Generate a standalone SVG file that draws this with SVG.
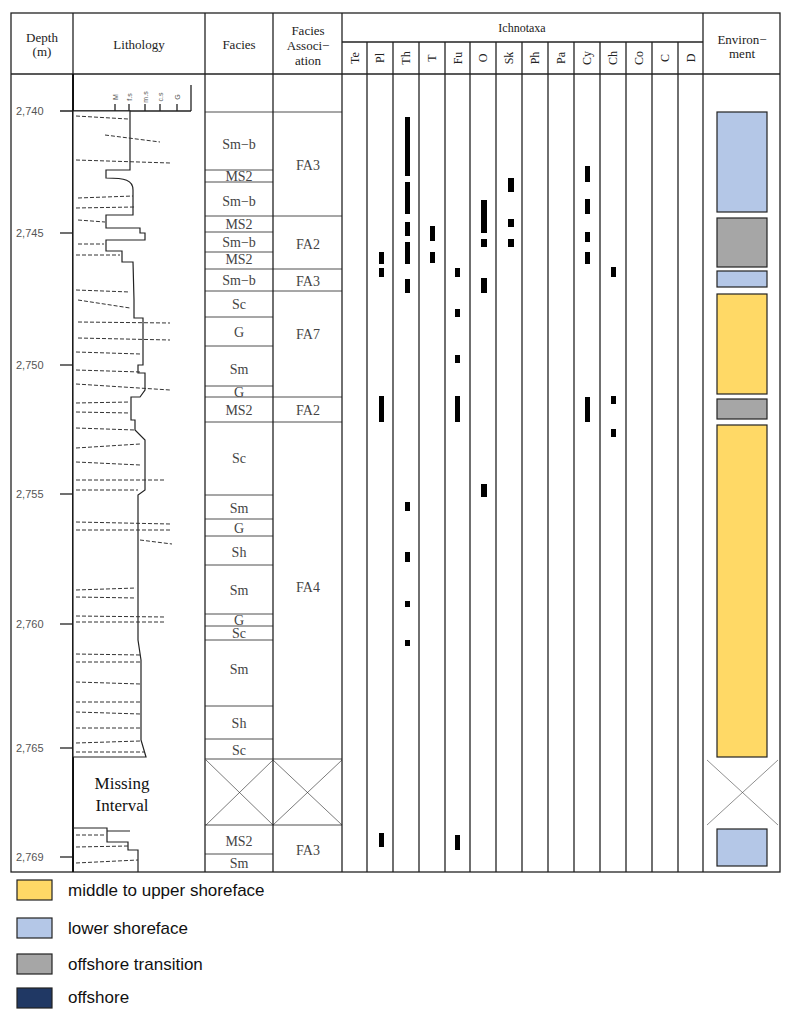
<svg xmlns="http://www.w3.org/2000/svg" width="792" height="1020" viewBox="0 0 792 1020">
<style>
.t{font-family:"Liberation Serif",serif;fill:#222;text-anchor:middle}
.h{font-size:13px}
.f{font-size:14px;fill:#444}
.d{font-family:"Liberation Sans",sans-serif;font-size:11px;fill:#555}
.g{stroke:#222;stroke-width:1.3;fill:none}
.th{stroke:#222;stroke-width:0.8;fill:none}
.b{fill:#000}
.ds{stroke:#333;stroke-width:1;stroke-dasharray:4 2;fill:none}
.lg{font-family:"Liberation Sans",sans-serif;font-size:17px;fill:#111}
.env{stroke:#222;stroke-width:1.2}
</style>
<rect width="792" height="1020" fill="#fff"/>
<g id="table">
<rect x="11" y="13" width="769" height="859" class="g"/>
<line x1="11" y1="74" x2="780" y2="74" class="g"/>
<line x1="342" y1="42" x2="703" y2="42" class="g"/>
<g class="g">
<line x1="73" y1="13" x2="73" y2="74"/><line x1="205" y1="13" x2="205" y2="872"/><line x1="273" y1="13" x2="273" y2="872"/><line x1="342" y1="13" x2="342" y2="872"/><line x1="703" y1="13" x2="703" y2="872"/>
<line x1="367" y1="42" x2="367" y2="872"/><line x1="393" y1="42" x2="393" y2="872"/><line x1="419" y1="42" x2="419" y2="872"/><line x1="445" y1="42" x2="445" y2="872"/><line x1="470" y1="42" x2="470" y2="872"/><line x1="496" y1="42" x2="496" y2="872"/><line x1="522" y1="42" x2="522" y2="872"/><line x1="548" y1="42" x2="548" y2="872"/><line x1="574" y1="42" x2="574" y2="872"/><line x1="600" y1="42" x2="600" y2="872"/><line x1="626" y1="42" x2="626" y2="872"/><line x1="652" y1="42" x2="652" y2="872"/><line x1="678" y1="42" x2="678" y2="872"/>
</g>
<text class="t h" x="42" y="42">Depth</text><text class="t h" x="42" y="56">(m)</text>
<text class="t h" x="139" y="49">Lithology</text>
<text class="t h" x="239" y="49">Facies</text>
<text class="t h" x="308" y="35">Facies</text><text class="t h" x="308" y="50">Associ−</text><text class="t h" x="308" y="65">ation</text>
<text class="t h" x="522" y="32" style="font-size:12px">Ichnotaxa</text>
<text class="t h" x="742" y="44">Environ−</text><text class="t h" x="742" y="58">ment</text>
<g class="t" style="font-size:12px">
<text transform="translate(359,58) rotate(-90)">Te</text><text transform="translate(384,58) rotate(-90)">Pl</text><text transform="translate(410,58) rotate(-90)">Th</text><text transform="translate(436,58) rotate(-90)">T</text><text transform="translate(462,58) rotate(-90)">Fu</text><text transform="translate(487,58) rotate(-90)">O</text><text transform="translate(513,58) rotate(-90)">Sk</text><text transform="translate(539,58) rotate(-90)">Ph</text><text transform="translate(565,58) rotate(-90)">Pa</text><text transform="translate(591,58) rotate(-90)">Cy</text><text transform="translate(617,58) rotate(-90)">Ch</text><text transform="translate(643,58) rotate(-90)">Co</text><text transform="translate(669,58) rotate(-90)">C</text><text transform="translate(695,58) rotate(-90)">D</text>
</g>
</g>
<g id="depth">
<g class="g"><line x1="60" y1="111" x2="191" y2="111"/><line x1="191" y1="85" x2="191" y2="111"/>
<line x1="115" y1="104" x2="115" y2="111"/><line x1="129" y1="104" x2="129" y2="111"/><line x1="145" y1="104" x2="145" y2="111"/><line x1="160" y1="104" x2="160" y2="111"/><line x1="177" y1="104" x2="177" y2="111"/>
<line x1="60" y1="233" x2="73" y2="233"/><line x1="60" y1="365" x2="73" y2="365"/><line x1="60" y1="494" x2="73" y2="494"/><line x1="60" y1="624" x2="73" y2="624"/><line x1="60" y1="748" x2="73" y2="748"/><line x1="60" y1="857" x2="73" y2="857"/></g>
<g class="d" style="font-size:7px" text-anchor="middle">
<text transform="translate(118,97) rotate(-90)">M</text><text transform="translate(132,97) rotate(-90)">f.s</text><text transform="translate(148,97) rotate(-90)">m.s</text><text transform="translate(163,97) rotate(-90)">c.s</text><text transform="translate(180,97) rotate(-90)">G</text></g>
<g class="d"><text x="16" y="115">2,740</text><text x="16" y="237">2,745</text><text x="16" y="369">2,750</text><text x="16" y="498">2,755</text><text x="16" y="628">2,760</text><text x="16" y="752">2,765</text><text x="16" y="861">2,769</text></g>
</g>
<g id="lithology">
<line x1="73" y1="74" x2="73" y2="872" stroke="#111" stroke-width="2"/>
<path d="M73 111 H130 V170 H106 V178 C125 178 133 180 133 190 V215 H106 V228 H140 V233 H145 V240 H106 V251 H122 V262 H133 L134 300 V318 H143 V365 H138 V373 H145 V390 L140 397 H131 V420 H135 V430 L145 440 V490 L138 495 V640 L141 660 V740 L146 757 H73 Z" fill="#fff" stroke="#222" stroke-width="1.2"/>
<path d="M73 828 H107 V831 H130 M107 831 V842 H128 V850 H138 V872" fill="none" stroke="#222" stroke-width="1.2"/>
<g class="ds">
<path d="M76 116 L128 119"/><path d="M105 135 L160 142"/><path d="M76 160 L170 163"/><path d="M78 198 L133 196"/><path d="M76 208 L134 207"/><path d="M78 220 L105 222"/><path d="M78 244 L104 244"/><path d="M76 255 L120 255"/><path d="M76 290 L130 292"/><path d="M78 300 L130 308"/><path d="M78 322 L170 323"/><path d="M78 338 L170 340"/><path d="M76 352 L140 354"/><path d="M76 370 L140 372"/><path d="M76 384 L170 390"/><path d="M76 403 L130 402"/><path d="M76 412 L130 413"/><path d="M76 428 L135 430"/><path d="M76 448 L140 444"/><path d="M76 462 L140 465"/><path d="M76 480 L165 480"/><path d="M76 490 L138 490"/><path d="M76 522 L170 524"/><path d="M76 530 L170 530"/><path d="M140 540 L172 544"/><path d="M76 590 L136 588"/><path d="M76 597 L136 598"/><path d="M76 616 L165 617"/><path d="M76 622 L165 622"/><path d="M76 654 L140 655"/><path d="M76 662 L142 662"/><path d="M76 682 L140 684"/><path d="M76 702 L140 702"/><path d="M76 712 L140 714"/><path d="M76 728 L140 728"/><path d="M76 743 L140 741"/><path d="M76 752 L145 752"/><path d="M76 835 L105 835"/><path d="M76 847 L128 846"/><path d="M76 863 L138 860"/>
</g>
<text class="t" x="122" y="789" style="font-size:17px;fill:#111">Missing</text>
<text class="t" x="122" y="811" style="font-size:17px;fill:#111">Interval</text>
</g>
<g id="facies">
<g class="th">
<line x1="205" y1="112" x2="342" y2="112"/><line x1="205" y1="170" x2="273" y2="170"/><line x1="205" y1="182" x2="273" y2="182"/><line x1="205" y1="216" x2="342" y2="216"/><line x1="205" y1="232" x2="273" y2="232"/><line x1="205" y1="252" x2="273" y2="252"/><line x1="205" y1="269" x2="342" y2="269"/><line x1="205" y1="291" x2="342" y2="291"/><line x1="205" y1="317" x2="273" y2="317"/><line x1="205" y1="346" x2="273" y2="346"/><line x1="205" y1="386" x2="273" y2="386"/><line x1="205" y1="397" x2="342" y2="397"/><line x1="205" y1="422" x2="342" y2="422"/><line x1="205" y1="495" x2="273" y2="495"/><line x1="205" y1="519" x2="273" y2="519"/><line x1="205" y1="536" x2="273" y2="536"/><line x1="205" y1="565" x2="273" y2="565"/><line x1="205" y1="614" x2="273" y2="614"/><line x1="205" y1="626" x2="273" y2="626"/><line x1="205" y1="640" x2="273" y2="640"/><line x1="205" y1="706" x2="273" y2="706"/><line x1="205" y1="739" x2="273" y2="739"/><line x1="205" y1="759" x2="342" y2="759"/><line x1="205" y1="825" x2="342" y2="825"/><line x1="205" y1="854" x2="273" y2="854"/>
<path d="M206 760 L273 825 M273 760 L206 825 M273 760 L342 825 M342 760 L273 825" stroke-width="0.6"/>
</g>
<g class="t f">
<text x="239" y="149">Sm−b</text><text x="239" y="181">MS2</text><text x="239" y="206">Sm−b</text><text x="239" y="229">MS2</text><text x="239" y="247">Sm−b</text><text x="239" y="264">MS2</text><text x="239" y="285">Sm−b</text><text x="239" y="309">Sc</text><text x="239" y="337">G</text><text x="239" y="374">Sm</text><text x="239" y="397">G</text><text x="239" y="415">MS2</text><text x="239" y="463">Sc</text><text x="239" y="513">Sm</text><text x="239" y="533">G</text><text x="239" y="557">Sh</text><text x="239" y="595">Sm</text><text x="239" y="625">G</text><text x="239" y="638">Sc</text><text x="239" y="674">Sm</text><text x="239" y="728">Sh</text><text x="239" y="755">Sc</text><text x="239" y="846">MS2</text><text x="239" y="868">Sm</text>
<text x="308" y="170">FA3</text><text x="308" y="249">FA2</text><text x="308" y="286">FA3</text><text x="308" y="339">FA7</text><text x="308" y="415">FA2</text><text x="308" y="592">FA4</text><text x="308" y="855">FA3</text>
</g>
</g>
<g id="ichnotaxa">
<rect class="b" x="379" y="252" width="5" height="12"/><rect class="b" x="379" y="268" width="5" height="9"/><rect class="b" x="379" y="396" width="5" height="26"/><rect class="b" x="379" y="833" width="5" height="14"/>
<rect class="b" x="405" y="117" width="5" height="59"/><rect class="b" x="405" y="182" width="5" height="32"/><rect class="b" x="405" y="222" width="5" height="14"/><rect class="b" x="405" y="242" width="5" height="22"/><rect class="b" x="405" y="279" width="5" height="14"/><rect class="b" x="405" y="502" width="5" height="9"/><rect class="b" x="405" y="552" width="5" height="10"/><rect class="b" x="405" y="601" width="5" height="6"/><rect class="b" x="405" y="640" width="5" height="6"/>
<rect class="b" x="430" y="226" width="5" height="15"/><rect class="b" x="430" y="252" width="5" height="11"/>
<rect class="b" x="455" y="268" width="5" height="9"/><rect class="b" x="455" y="309" width="5" height="8"/><rect class="b" x="455" y="355" width="5" height="8"/><rect class="b" x="455" y="396" width="5" height="26"/><rect class="b" x="455" y="835" width="5" height="15"/>
<rect class="b" x="481" y="200" width="6" height="33"/><rect class="b" x="481" y="239" width="6" height="8"/><rect class="b" x="481" y="278" width="6" height="15"/><rect class="b" x="481" y="484" width="6" height="13"/>
<rect class="b" x="508" y="178" width="6" height="14"/><rect class="b" x="508" y="219" width="6" height="8"/><rect class="b" x="508" y="239" width="6" height="8"/>
<rect class="b" x="585" y="166" width="5" height="16"/><rect class="b" x="585" y="199" width="5" height="15"/><rect class="b" x="585" y="232" width="5" height="10"/><rect class="b" x="585" y="252" width="5" height="12"/><rect class="b" x="585" y="397" width="5" height="25"/>
<rect class="b" x="611" y="267" width="5" height="10"/><rect class="b" x="611" y="396" width="5" height="8"/><rect class="b" x="611" y="429" width="5" height="8"/>
</g>
<g id="environment">
<rect class="env" x="717" y="112" width="50" height="100" fill="#B4C7E7"/>
<rect class="env" x="717" y="218" width="50" height="49" fill="#A6A6A6"/>
<rect class="env" x="717" y="271" width="50" height="16" fill="#B4C7E7"/>
<rect class="env" x="717" y="294" width="50" height="100" fill="#FFD966"/>
<rect class="env" x="717" y="399" width="50" height="20" fill="#A6A6A6"/>
<rect class="env" x="717" y="425" width="50" height="332" fill="#FFD966"/>
<path d="M707 760 L778 825 M778 760 L707 825" stroke="#444" stroke-width="0.6"/>
<rect class="env" x="717" y="829" width="50" height="37" fill="#B4C7E7"/>
</g>
<g id="legend">
<rect class="env" x="17" y="880" width="35" height="20" fill="#FFD966"/><text class="lg" x="68" y="896">middle to upper shoreface</text>
<rect class="env" x="17" y="918" width="35" height="20" fill="#B4C7E7"/><text class="lg" x="68" y="934">lower shoreface</text>
<rect class="env" x="17" y="954" width="35" height="20" fill="#A6A6A6"/><text class="lg" x="68" y="970">offshore transition</text>
<rect class="env" x="17" y="988" width="35" height="20" fill="#203864"/><text class="lg" x="68" y="1003">offshore</text>
</g>
</svg>
